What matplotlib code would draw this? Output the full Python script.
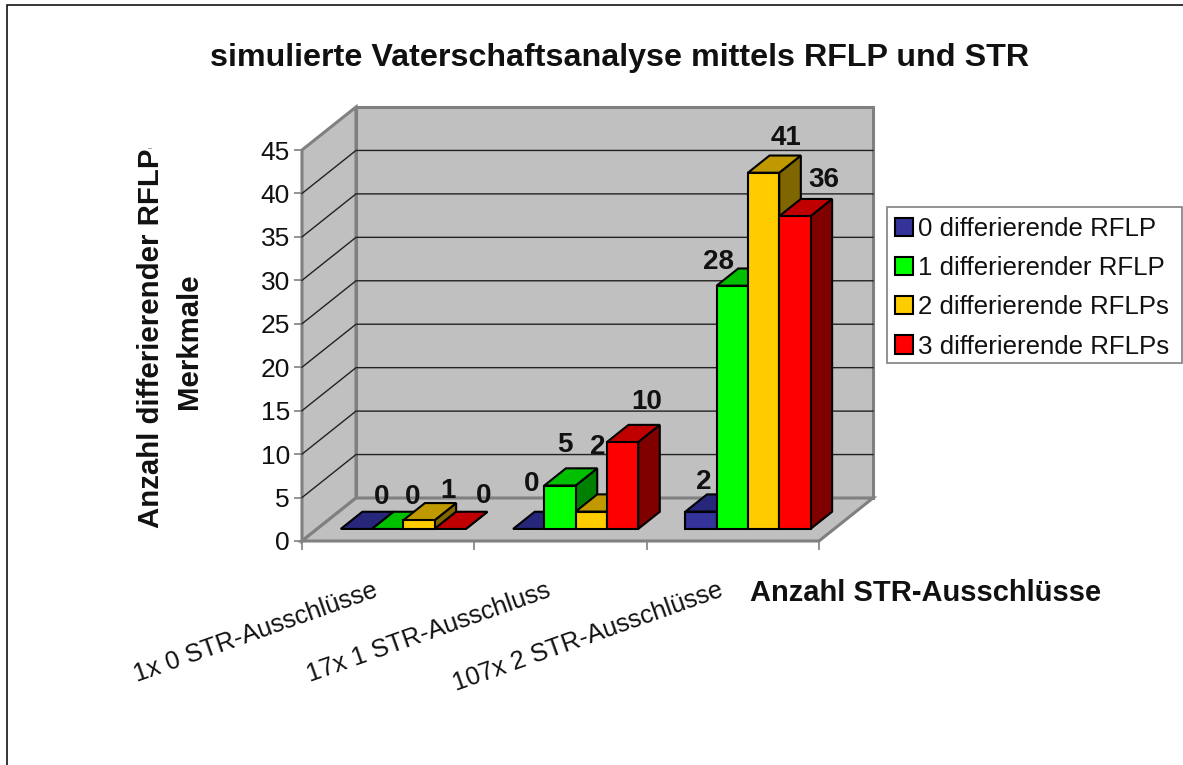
import matplotlib
matplotlib.use("Agg")
import matplotlib.pyplot as plt
from matplotlib.lines import Line2D
from matplotlib.patches import Patch, Polygon, Rectangle
from matplotlib.transforms import Bbox

plt.rcParams['font.family'] = ['Liberation Sans', 'DejaVu Sans']

categories = ["1x 0 STR-Ausschlüsse", "17x 1 STR-Ausschluss", "107x 2 STR-Ausschlüsse"]
series_names = ["0 differierende RFLP", "1 differierender RFLP",
                "2 differierende RFLPs", "3 differierende RFLPs"]
rflp_0 = [0, 0, 2]
rflp_1 = [0, 5, 28]
rflp_2 = [1, 2, 41]
rflp_3 = [0, 10, 36]
y_ticks = [0, 5, 10, 15, 20, 25, 30, 35, 40, 45]

series = [rflp_0, rflp_1, rflp_2, rflp_3]
front_cols = ["#333399", "#00ff00", "#ffcc00", "#ff0000"]
top_cols = ["#26267a", "#00c000", "#c09900", "#c00000"]
side_cols = ["#1a1a4d", "#008000", "#806600", "#800000"]

# label offsets from the front top centre of each bar, in pixels
label_dx = [[25, 25, 29, 33], [3, 5, 6, 24], [3, -14, 22, 29]]
label_dy = [[32, 32, 29, 33], [45, 41, 65, 40], [30, 24, 35, 36]]

W, H = 1183, 765
fig = plt.figure(figsize=(W / 100, H / 100), dpi=100)
px = 72 / 100

# page border, only top and left show in the original
fig.add_artist(Line2D([7 / W, 7 / W, 1], [0, 1 - 5 / H, 1 - 5 / H], transform=fig.transFigure,
                      color="black", linewidth=1.1, solid_joinstyle="miter"))

ax = fig.add_axes([302 / W, (H - 541) / H, 517 / W, 391 / H])
ax.set_xlim(0, 3)
ax.set_ylim(0, 45)
ax.patch.set_visible(False)
for s in ax.spines.values():
    s.set_visible(False)

# depth of the 3d box in data units
DX = 54 / (517 / 3)
DY = 43 / (391 / 45)
GRAY = "#808080"


def proj(x, y, d):
    return (x + d * DX, y + d * DY)


def poly(pts, fc, ec, lw, z):
    ax.add_patch(Polygon(pts, closed=True, facecolor=fc, edgecolor=ec, linewidth=lw,
                         joinstyle="miter", clip_on=False, zorder=z))


# walls and floor
poly([proj(0, 0, 0), proj(0, 0, 1), proj(0, 45, 1), proj(0, 45, 0)], "#c0c0c0", GRAY, 2.2, 1)
poly([proj(0, 0, 1), proj(3, 0, 1), proj(3, 45, 1), proj(0, 45, 1)], "#c0c0c0", GRAY, 2.2, 1)
poly([proj(0, 0, 0), proj(3, 0, 0), proj(3, 0, 1), proj(0, 0, 1)], "#c0c0c0", GRAY, 2.2, 1)

for t in y_ticks[1:-1]:
    a, b, c = proj(0, t, 0), proj(0, t, 1), proj(3, t, 1)
    ax.plot([a[0], b[0], c[0]], [a[1], b[1], c[1]], color="#222222", lw=1, clip_on=False, zorder=2)

ax.set_yticks(y_ticks)
ax.set_yticklabels([str(t) for t in y_ticks], fontsize=19, color="#111111")
ax.set_xticks(range(4))
ax.set_xticklabels([])
ax.tick_params(axis="y", length=8 * px, width=1.2, color=GRAY, pad=3)
ax.tick_params(axis="x", length=9 * px, width=1.2, color=GRAY)

# bars
BAR_W = 0.1815
D0, D1 = 0.28, 0.68
z = 3
for c in range(len(categories)):
    left0 = c + 0.5 - 2 * BAR_W
    for i, vals in enumerate(series):
        v = vals[c]
        x0, x1 = left0 + i * BAR_W, left0 + (i + 1) * BAR_W
        lw = 1.5
        a = proj(x0, 0, D0)
        b = proj(x1, 0, D0)
        ct, dt = proj(x1, v, D0), proj(x0, v, D0)
        poly([b, proj(x1, 0, D1), proj(x1, v, D1), ct], side_cols[i], "black", lw, z)
        poly([dt, ct, proj(x1, v, D1), proj(x0, v, D1)], top_cols[i], "black", lw, z)
        if v > 0:
            poly([a, b, ct, dt], front_cols[i], "black", lw, z)
        z += 1
        ax.annotate(str(v), ((a[0] + b[0]) / 2, dt[1]),
                    xytext=(label_dx[c][i] * px, label_dy[c][i] * px), textcoords="offset points",
                    ha="center", va="center", fontsize=20, fontweight="bold",
                    color="#111111", zorder=50, annotation_clip=False)

# category labels
for c, name in enumerate(categories):
    ax.annotate(name, (c + 0.5, 0), xytext=(-15 * px, -37 * px), textcoords="offset points",
                ha="right", va="top", rotation=19.5, rotation_mode="anchor",
                fontsize=18.3, color="#111111", annotation_clip=False)

fig.text(620 / W, 1 - 58 / H, "simulierte Vaterschaftsanalyse mittels RFLP und STR",
         ha="center", va="center", fontsize=23.2, fontweight="bold", color="#111111")
fig.text(926 / W, 1 - 593 / H, "Anzahl STR-Ausschlüsse", ha="center", va="center",
         fontsize=21, fontweight="bold", color="#111111")

# the hyphen of the axis title is cut off in the original
yl = fig.text(151 / W, 1 - 333.5 / H, "Anzahl differierender RFLP-", rotation=90,
              ha="center", va="center", fontsize=21.2, fontweight="bold", color="#111111")
yl.set_clip_box(Bbox([[0, 0], [W, H - 148]]))
yl.set_clip_on(True)
fig.text(189 / W, 1 - 341 / H, "Merkmale", rotation=90, ha="center", va="center",
         fontsize=21.2, fontweight="bold", color="#111111")

# legend frame drawn apart, the original has less padding at the bottom
fig.add_artist(Rectangle((887 / W, 1 - 363 / H), 295 / W, 156 / H, transform=fig.transFigure,
                         facecolor="white", edgecolor=GRAY, linewidth=1.2))
handles = [Patch(facecolor=col, edgecolor="black", linewidth=1.5) for col in front_cols]
leg = fig.legend(handles, series_names, loc="upper left",
                 bbox_to_anchor=(884 / W, 1 - 206 / H), bbox_transform=fig.transFigure,
                 fontsize=18.6, frameon=False, borderaxespad=0, borderpad=0.42,
                 labelspacing=0.59, handlelength=0.7, handleheight=0.7,
                 handletextpad=0.2, labelcolor="#111111")

fig.savefig("out.png", dpi=100)
